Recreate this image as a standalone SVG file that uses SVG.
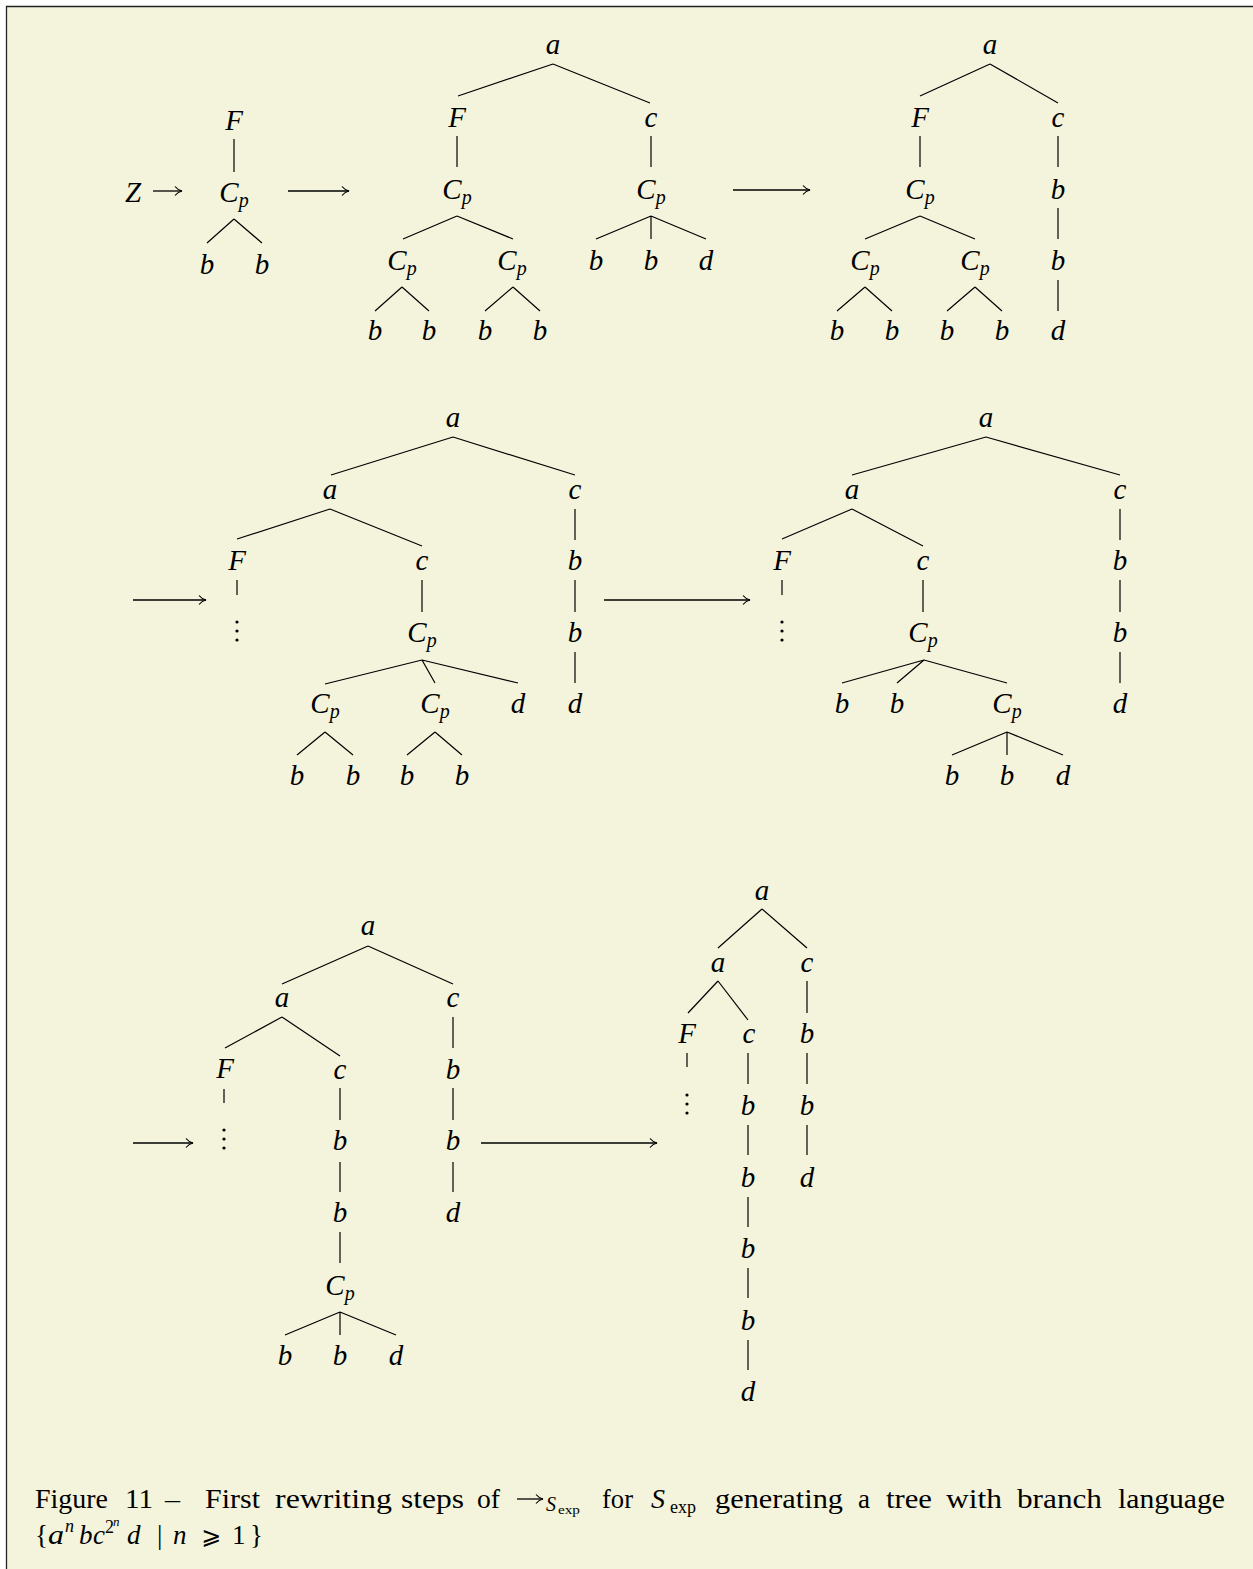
<svg xmlns="http://www.w3.org/2000/svg" width="1253" height="1569" viewBox="0 0 1253 1569">
<style>
.n{font-family:"Liberation Serif","DejaVu Serif",serif;font-style:italic;font-size:29px;text-anchor:middle;fill:#000}
.s{font-size:20px}
.e{stroke:#000;stroke-width:1.2;fill:none}
.ar{stroke:#000;stroke-width:1.3;fill:none;marker-end:url(#ah)}
.cap{font-family:"Liberation Serif","DejaVu Serif",serif;font-size:27px;fill:#000}
.mi{font-style:italic}
</style>
<defs>
<marker id="ah" viewBox="-9 -6 10 12" refX="0" refY="0" markerWidth="10" markerHeight="12" markerUnits="userSpaceOnUse" orient="auto">
<path d="M-7,-4.5 C-5,-2 -2,-0.5 0,0 C-2,0.5 -5,2 -7,4.5" stroke="#000" stroke-width="1.2" fill="none"/>
</marker>
</defs>
<rect x="0" y="0" width="1253" height="1569" fill="#fff"/>
<rect x="6.5" y="6.5" width="1260" height="1580" fill="#F4F4DC"/>
<path d="M6.5,1569 V6.5 H1253" stroke="#222" stroke-width="1.3" fill="none"/>

<g id="connectors">
<line class="ar" x1="153" y1="191" x2="182" y2="191"/>
<line class="ar" x1="288" y1="191" x2="349" y2="191"/>
<line class="ar" x1="733" y1="190" x2="810" y2="190"/>
<line class="ar" x1="133" y1="600" x2="206" y2="600"/>
<line class="ar" x1="604" y1="600" x2="750" y2="600"/>
<line class="ar" x1="133" y1="1143" x2="193" y2="1143"/>
<line class="ar" x1="481" y1="1143" x2="657" y2="1143"/>
<path class="e" d="M234,139V172 M234,219L207,243 M234,219L262,243"/>
<path class="e" d="M553,64L458,96 M553,64L650,103 M457,136V167 M651,136V167 M457,216L403,239 M457,216L513,239 M651,216L596,239 M651,216V239 M651,216L706,239 M402,287L375,311 M402,287L429,311 M513,287L485,311 M513,287L540,311"/>
<path class="e" d="M990,64L920,96 M990,64L1058,103 M920,136V167 M1058,136V167 M920,216L865,239 M920,216L975,239 M1058,208V239 M865,287L837,311 M865,287L892,311 M975,287L947,311 M975,287L1002,311 M1058,280V311"/>
<path class="e" d="M453,437L331,475 M453,437L575,475 M330,509L237,539 M330,509L422,546 M237,580V595 M422,580V612 M422,660L325,684 M422,660L435,683 M422,660L518,683 M325,732L297,755 M325,732L353,755 M435,732L407,755 M435,732L462,755 M575,509V540 M575,580V612 M575,652V683"/>
<path class="e" d="M986,437L852,475 M986,437L1120,475 M852,509L782,539 M852,509L923,546 M782,580V595 M923,580V612 M924,660L842,683 M924,660L897,683 M924,660L1007,683 M1007,732L952,755 M1007,732V755 M1007,732L1063,755 M1120,509V540 M1120,580V612 M1120,652V683"/>
<path class="e" d="M368,946L282,984 M368,946L453,984 M282,1017L225,1048 M282,1017L340,1056 M224,1089V1103 M340,1088V1120 M453,1017V1048 M453,1088V1120 M340,1162V1192 M453,1162V1192 M340,1232V1263 M340,1312L285,1335 M340,1312V1335 M340,1312L396,1335"/>
<path class="e" d="M762,909L718,948 M762,909L807,948 M718,981L688,1013 M718,981L748,1020 M807,981V1013 M687,1053V1067 M748,1053V1084 M807,1053V1084 M748,1125V1155 M807,1125V1155 M748,1197V1227 M748,1268V1298 M748,1340V1370"/>
</g>

<g id="t1">
<g id="t1-Z"><text class="n" x="133" y="202">Z</text></g>
<g id="t1-F"><text class="n" x="234" y="130">F</text></g>
<g id="t1-Cp"><text class="n" x="234" y="202">C<tspan class="s" dy="5">p</tspan></text></g>
<g id="t1-b1"><text class="n" x="207" y="274">b</text></g>
<g id="t1-b2"><text class="n" x="262" y="274">b</text></g>
</g>

<g id="t2">
<g id="t2-a"><text class="n" x="553" y="54">a</text></g>
<g id="t2-F"><text class="n" x="457" y="127">F</text></g>
<g id="t2-c"><text class="n" x="651" y="127">c</text></g>
<g id="t2-Cp1"><text class="n" x="457" y="199">C<tspan class="s" dy="5">p</tspan></text></g>
<g id="t2-Cp2"><text class="n" x="651" y="199">C<tspan class="s" dy="5">p</tspan></text></g>
<g id="t2-Cp3"><text class="n" x="402" y="270">C<tspan class="s" dy="5">p</tspan></text></g>
<g id="t2-Cp4"><text class="n" x="512" y="270">C<tspan class="s" dy="5">p</tspan></text></g>
<g id="t2-b5"><text class="n" x="596" y="270">b</text></g>
<g id="t2-b6"><text class="n" x="651" y="270">b</text></g>
<g id="t2-d"><text class="n" x="706" y="270">d</text></g>
<g id="t2-b1"><text class="n" x="375" y="340">b</text></g>
<g id="t2-b2"><text class="n" x="429" y="340">b</text></g>
<g id="t2-b3"><text class="n" x="485" y="340">b</text></g>
<g id="t2-b4"><text class="n" x="540" y="340">b</text></g>
</g>

<g id="t3">
<g id="t3-a"><text class="n" x="990" y="54">a</text></g>
<g id="t3-F"><text class="n" x="920" y="127">F</text></g>
<g id="t3-c"><text class="n" x="1058" y="127">c</text></g>
<g id="t3-Cp1"><text class="n" x="920" y="199">C<tspan class="s" dy="5">p</tspan></text></g>
<g id="t3-b5"><text class="n" x="1058" y="199">b</text></g>
<g id="t3-Cp2"><text class="n" x="865" y="270">C<tspan class="s" dy="5">p</tspan></text></g>
<g id="t3-Cp3"><text class="n" x="975" y="270">C<tspan class="s" dy="5">p</tspan></text></g>
<g id="t3-b6"><text class="n" x="1058" y="270">b</text></g>
<g id="t3-b1"><text class="n" x="837" y="340">b</text></g>
<g id="t3-b2"><text class="n" x="892" y="340">b</text></g>
<g id="t3-b3"><text class="n" x="947" y="340">b</text></g>
<g id="t3-b4"><text class="n" x="1002" y="340">b</text></g>
<g id="t3-d"><text class="n" x="1058" y="340">d</text></g>
</g>

<g id="t4">
<g id="t4-a1"><text class="n" x="453" y="427">a</text></g>
<g id="t4-a2"><text class="n" x="330" y="499">a</text></g>
<g id="t4-c1"><text class="n" x="575" y="499">c</text></g>
<g id="t4-F"><text class="n" x="237" y="570">F</text></g>
<g id="t4-c2"><text class="n" x="422" y="570">c</text></g>
<g id="t4-b5"><text class="n" x="575" y="570">b</text></g>
<g id="t4-dots"><circle cx="237" cy="622" r="1.6"/><circle cx="237" cy="631" r="1.6"/><circle cx="237" cy="640" r="1.6"/></g>
<g id="t4-Cp1"><text class="n" x="422" y="642">C<tspan class="s" dy="5">p</tspan></text></g>
<g id="t4-b6"><text class="n" x="575" y="642">b</text></g>
<g id="t4-Cp2"><text class="n" x="325" y="713">C<tspan class="s" dy="5">p</tspan></text></g>
<g id="t4-Cp3"><text class="n" x="435" y="713">C<tspan class="s" dy="5">p</tspan></text></g>
<g id="t4-d1"><text class="n" x="518" y="713">d</text></g>
<g id="t4-d2"><text class="n" x="575" y="713">d</text></g>
<g id="t4-b1"><text class="n" x="297" y="785">b</text></g>
<g id="t4-b2"><text class="n" x="353" y="785">b</text></g>
<g id="t4-b3"><text class="n" x="407" y="785">b</text></g>
<g id="t4-b4"><text class="n" x="462" y="785">b</text></g>
</g>

<g id="t5">
<g id="t5-a1"><text class="n" x="986" y="427">a</text></g>
<g id="t5-a2"><text class="n" x="852" y="499">a</text></g>
<g id="t5-c1"><text class="n" x="1120" y="499">c</text></g>
<g id="t5-F"><text class="n" x="782" y="570">F</text></g>
<g id="t5-c2"><text class="n" x="923" y="570">c</text></g>
<g id="t5-b6"><text class="n" x="1120" y="570">b</text></g>
<g id="t5-dots"><circle cx="782" cy="622" r="1.6"/><circle cx="782" cy="631" r="1.6"/><circle cx="782" cy="640" r="1.6"/></g>
<g id="t5-Cp1"><text class="n" x="923" y="642">C<tspan class="s" dy="5">p</tspan></text></g>
<g id="t5-b7"><text class="n" x="1120" y="642">b</text></g>
<g id="t5-b1"><text class="n" x="842" y="713">b</text></g>
<g id="t5-b2"><text class="n" x="897" y="713">b</text></g>
<g id="t5-Cp2"><text class="n" x="1007" y="713">C<tspan class="s" dy="5">p</tspan></text></g>
<g id="t5-d2"><text class="n" x="1120" y="713">d</text></g>
<g id="t5-b3"><text class="n" x="952" y="785">b</text></g>
<g id="t5-b4"><text class="n" x="1007" y="785">b</text></g>
<g id="t5-d1"><text class="n" x="1063" y="785">d</text></g>
</g>

<g id="t6">
<g id="t6-a1"><text class="n" x="368" y="935">a</text></g>
<g id="t6-a2"><text class="n" x="282" y="1007">a</text></g>
<g id="t6-c1"><text class="n" x="453" y="1007">c</text></g>
<g id="t6-F"><text class="n" x="225" y="1078">F</text></g>
<g id="t6-c2"><text class="n" x="340" y="1079">c</text></g>
<g id="t6-b5"><text class="n" x="453" y="1079">b</text></g>
<g id="t6-dots"><circle cx="224" cy="1130" r="1.6"/><circle cx="224" cy="1139" r="1.6"/><circle cx="224" cy="1148" r="1.6"/></g>
<g id="t6-b1"><text class="n" x="340" y="1150">b</text></g>
<g id="t6-b6"><text class="n" x="453" y="1150">b</text></g>
<g id="t6-b2"><text class="n" x="340" y="1222">b</text></g>
<g id="t6-d2"><text class="n" x="453" y="1222">d</text></g>
<g id="t6-Cp"><text class="n" x="340" y="1295">C<tspan class="s" dy="5">p</tspan></text></g>
<g id="t6-b3"><text class="n" x="285" y="1365">b</text></g>
<g id="t6-b4"><text class="n" x="340" y="1365">b</text></g>
<g id="t6-d1"><text class="n" x="396" y="1365">d</text></g>
</g>

<g id="t7">
<g id="t7-a1"><text class="n" x="762" y="900">a</text></g>
<g id="t7-a2"><text class="n" x="718" y="972">a</text></g>
<g id="t7-c1"><text class="n" x="807" y="972">c</text></g>
<g id="t7-F"><text class="n" x="687" y="1043">F</text></g>
<g id="t7-c2"><text class="n" x="749" y="1043">c</text></g>
<g id="t7-b5"><text class="n" x="807" y="1043">b</text></g>
<g id="t7-dots"><circle cx="687" cy="1095" r="1.6"/><circle cx="687" cy="1104" r="1.6"/><circle cx="687" cy="1113" r="1.6"/></g>
<g id="t7-b1"><text class="n" x="748" y="1115">b</text></g>
<g id="t7-b6"><text class="n" x="807" y="1115">b</text></g>
<g id="t7-b2"><text class="n" x="748" y="1187">b</text></g>
<g id="t7-d2"><text class="n" x="807" y="1187">d</text></g>
<g id="t7-b3"><text class="n" x="748" y="1258">b</text></g>
<g id="t7-b4"><text class="n" x="748" y="1330">b</text></g>
<g id="t7-d1"><text class="n" x="748" y="1401">d</text></g>
</g>

<g id="caption" class="cap">
<text x="35" y="1508" textLength="73" lengthAdjust="spacingAndGlyphs">Figure</text>
<text x="125" y="1508" textLength="28" lengthAdjust="spacingAndGlyphs">11</text>
<text x="165" y="1508" textLength="15" lengthAdjust="spacingAndGlyphs">–</text>
<text x="205" y="1508" textLength="55" lengthAdjust="spacingAndGlyphs">First</text>
<text x="275" y="1508" textLength="117" lengthAdjust="spacingAndGlyphs">rewriting</text>
<text x="401" y="1508" textLength="63" lengthAdjust="spacingAndGlyphs">steps</text>
<text x="477" y="1508" textLength="23" lengthAdjust="spacingAndGlyphs">of</text>
<line class="ar" x1="517" y1="1499" x2="543" y2="1499"/>
<text x="546" y="1511" class="mi" font-size="20">S</text>
<text x="558" y="1514" font-size="13" textLength="22" lengthAdjust="spacingAndGlyphs">exp</text>
<text x="602" y="1508" textLength="31" lengthAdjust="spacingAndGlyphs">for</text>
<text x="651" y="1508" class="mi" font-size="28">S</text>
<text x="670" y="1513" font-size="19" textLength="26" lengthAdjust="spacingAndGlyphs">exp</text>
<text x="715" y="1508" textLength="128" lengthAdjust="spacingAndGlyphs">generating</text>
<text x="858" y="1508" textLength="12" lengthAdjust="spacingAndGlyphs">a</text>
<text x="886" y="1508" textLength="46" lengthAdjust="spacingAndGlyphs">tree</text>
<text x="946" y="1508" textLength="56" lengthAdjust="spacingAndGlyphs">with</text>
<text x="1017" y="1508" textLength="85" lengthAdjust="spacingAndGlyphs">branch</text>
<text x="1118" y="1508" textLength="107" lengthAdjust="spacingAndGlyphs">language</text>
<text x="35" y="1544">{</text>
<text x="48" y="1544" class="mi" textLength="16" lengthAdjust="spacingAndGlyphs">a</text>
<text x="65" y="1532" class="mi" font-size="18">n</text>
<text x="79" y="1544" class="mi">b</text>
<text x="93" y="1544" class="mi">c</text>
<text x="105" y="1533" font-size="18">2</text>
<text x="113" y="1526" class="mi" font-size="13">n</text>
<text x="127" y="1544" class="mi">d</text>
<text x="157" y="1544">|</text>
<text x="173" y="1544" class="mi">n</text>
<text x="201" y="1544" font-family="DejaVu Sans, sans-serif" font-size="24">⩾</text>
<text x="232" y="1544">1</text>
<text x="250" y="1544">}</text>
</g>
</svg>
